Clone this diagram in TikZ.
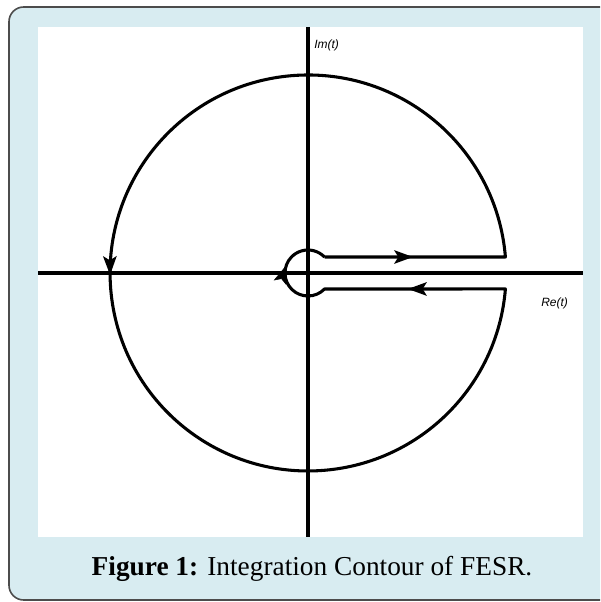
\documentclass[tikz,border=0pt]{standalone}
\usepackage{fontspec}
\setmainfont{Liberation Serif}
\newfontfamily\labelfont{Liberation Sans}
\usetikzlibrary{arrows.meta, decorations.markings}
\definecolor{panelblue}{HTML}{D8ECF1}
\tikzstyle{axis} = [line width=2.3pt]
\tikzstyle{contour} = [line width=2.3pt, line join=round]
\tikzstyle{axislabel} = [font=\labelfont\itshape\fontsize{9}{11}\selectfont, anchor=west, inner sep=0pt]
\tikzstyle{caption} = [font=\fontsize{20.5}{23}\selectfont, inner sep=0pt]
\tikzset{flow/.style={postaction={decorate}, decoration={markings,
  mark=at position 0.0526 with {\arrow{Stealth[length=14pt,width=10pt,inset=3pt]}},
  mark=at position 0.4688 with {\arrow{Stealth[length=14pt,width=10pt,inset=3pt]}},
  mark=at position 0.8856 with {\arrow{Stealth[length=14pt,width=10pt,inset=3pt]}}}},
  endflow/.style={decorate, decoration={markings,
  mark=at position 1 with {\arrow{Stealth[length=14pt,width=10pt,inset=3pt]}}}}}
\begin{document}
\begin{tikzpicture}[x=0.75pt, y=0.75pt]
        \useasboundingbox (-308,-329) rectangle (292,273);
        \clip (-308,-329) rectangle (292,273);

        % Rahmen und Hintergrund
        \draw [fill=panelblue, draw=black!70, line width=1.2pt, rounded corners=11pt] (-299,266) rectangle (330,-327);
        \fill [white] (-270,246) rectangle (275,-264);

        % Achsen
        \draw [axis] (-270,0) -- (275,0);
        \draw [axis] (0,246) -- (0,-264);

        % Integrationsweg
        \draw [contour, flow] (16.5,16) -- (197.4,16)
            arc [start angle=4.63, end angle=355.37, radius=198] -- (16.5,-16)
            arc [start angle=-44.08, end angle=-315.92, radius=23];
        \path [endflow] (200:23) arc [start angle=200, end angle=160, radius=23];

        % Beschriftung
        \node (imlabel) [axislabel] at (6,228) {Im(t)};
        \node (relabel) [axislabel] at (233,-30) {Re(t)};
        \node (caption) [caption] at (4,-296) {\textbf{Figure 1:} Integration Contour of FESR.};
    \end{tikzpicture}
\end{document}
